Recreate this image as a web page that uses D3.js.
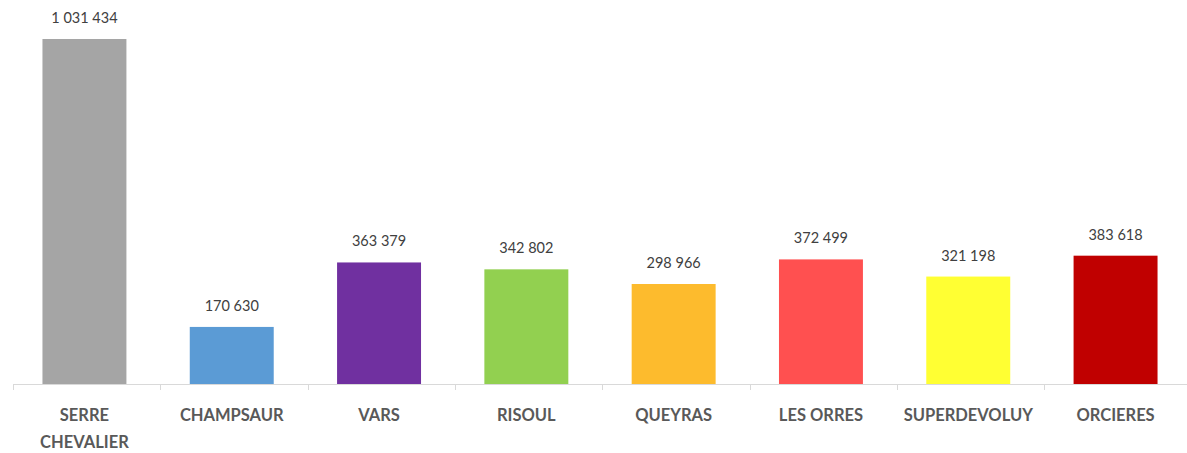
<!DOCTYPE html>
<html>
<head>
<meta charset="utf-8">
<script src="https://cdn.jsdelivr.net/npm/d3@7"></script>
<style>
  body { margin: 0; background: #fff; }
  svg { display: block; font-family: Lato, "Open Sans", sans-serif; }
</style>
</head>
<body>
<div id="chart"></div>
<script>
const stations = ["SERRE CHEVALIER", "CHAMPSAUR", "VARS", "RISOUL", "QUEYRAS", "LES ORRES", "SUPERDEVOLUY", "ORCIERES"];
const visits = [1031434, 170630, 363379, 342802, 298966, 372499, 321198, 383618];
const colors = ["#a5a5a5", "#5b9bd5", "#7030a0", "#92d050", "#fdbb2d", "#ff5050", "#ffff33", "#c00000"];

const width = 1187, height = 453;
const margin = { top: 39, right: 0, bottom: 69, left: 13 };

const svg = d3.select("#chart").append("svg")
  .attr("width", width)
  .attr("height", height);

const x = d3.scaleBand()
  .domain(stations)
  .range([margin.left, width - margin.right])
  .paddingInner(0.43)
  .paddingOuter(0.2);

const y = d3.scaleLinear()
  .domain([0, d3.max(visits)])
  .range([height - margin.bottom, margin.top]);

const fmt = v => d3.format(",")(v).replace(/,/g, " ");

// bars
svg.append("g")
  .selectAll("rect")
  .data(stations)
  .join("rect")
  .attr("x", d => x(d))
  .attr("width", x.bandwidth())
  .attr("y", (d, i) => y(visits[i]))
  .attr("height", (d, i) => y(0) - y(visits[i]))
  .attr("fill", (d, i) => colors[i]);

// value labels
svg.append("g")
  .selectAll("text")
  .data(stations)
  .join("text")
  .attr("x", d => x(d) + x.bandwidth() / 2)
  .attr("y", (d, i) => y(visits[i]) - 16)
  .attr("text-anchor", "middle")
  .attr("font-size", 14.5)
  .attr("fill", "#404040")
  .text((d, i) => fmt(visits[i]));

// x axis: baseline with ticks between categories
const step = x.step();
const x0 = margin.left;
const axis = svg.append("g").attr("stroke", "#d9d9d9").attr("stroke-width", 1);
axis.append("line")
  .attr("x1", x0).attr("x2", width)
  .attr("y1", y(0) + 0.5).attr("y2", y(0) + 0.5);
axis.selectAll(".tick")
  .data(d3.range(stations.length + 1))
  .join("line")
  .attr("x1", i => Math.round(x0 + i * step) + 0.5)
  .attr("x2", i => Math.round(x0 + i * step) + 0.5)
  .attr("y1", y(0))
  .attr("y2", y(0) + 6);

// category labels
const labels = svg.append("g")
  .selectAll("text")
  .data(stations)
  .join("text")
  .attr("text-anchor", "middle")
  .attr("font-size", 16.5)
  .attr("font-weight", "bold")
  .attr("fill", "#595959")
  .attr("transform", d => `translate(${x(d) + x.bandwidth() / 2},${y(0) + 37})`);

labels.each(function (d) {
  const words = d === "SERRE CHEVALIER" ? ["SERRE", "CHEVALIER"] : [d];
  d3.select(this).selectAll("tspan")
    .data(words)
    .join("tspan")
    .attr("x", 0)
    .attr("dy", (w, i) => i === 0 ? 0 : 27)
    .text(w => w);
});
</script>
</body>
</html>
